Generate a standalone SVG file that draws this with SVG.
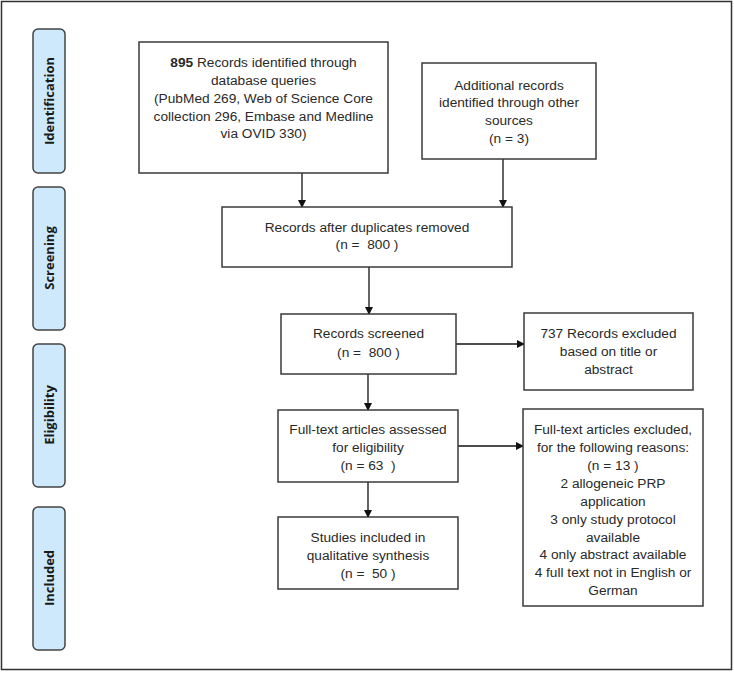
<svg xmlns="http://www.w3.org/2000/svg" width="734" height="680" viewBox="0 0 734 680">
<style>
.frame{fill:#fff;stroke:#333;stroke-width:1.5}
.box{fill:#fff;stroke:#3a3a3a;stroke-width:1.5}
.phase{fill:#cde9fb;stroke:#444;stroke-width:1.5}
.t{font-family:"Liberation Sans",Arial,sans-serif;font-size:13.7px;fill:#2a2a2a;text-anchor:middle;white-space:pre}
.p{font-family:"Open Sans","DejaVu Sans",sans-serif;font-size:13px;font-weight:bold;fill:#1a1a1a;text-anchor:middle}
.c{stroke:#111;stroke-width:1.3;fill:none;marker-end:url(#ah)}
</style>
<defs>
<marker id="ah" markerWidth="8" markerHeight="8" refX="7" refY="4" orient="auto" markerUnits="userSpaceOnUse">
<path d="M0,0 L8,4 L0,8 Z" fill="#111"/>
</marker>
</defs>
<rect class="frame" x="1.5" y="1.5" width="730" height="668"/>
<g id="phase-identification"><rect class="phase" x="33" y="29" width="32" height="144" rx="5"/><text class="p" transform="translate(53.5,101) rotate(-90)">Identification</text></g>
<g id="phase-screening"><rect class="phase" x="33" y="187" width="32" height="143" rx="5"/><text class="p" transform="translate(53.5,258) rotate(-90)">Screening</text></g>
<g id="phase-eligibility"><rect class="phase" x="33" y="344" width="32" height="143" rx="5"/><text class="p" transform="translate(53.5,415) rotate(-90)">Eligibility</text></g>
<g id="phase-included"><rect class="phase" x="33" y="507" width="32" height="143" rx="5"/><text class="p" transform="translate(53.5,578) rotate(-90)">Included</text></g>
<g id="connectors">
<line class="c" x1="302" y1="173" x2="302" y2="207"/>
<line class="c" x1="503" y1="159" x2="503" y2="207"/>
<line class="c" x1="369" y1="267" x2="369" y2="314"/>
<line class="c" x1="456" y1="344" x2="524" y2="344"/>
<line class="c" x1="368" y1="374" x2="368" y2="410"/>
<line class="c" x1="458" y1="446" x2="523" y2="446"/>
<line class="c" x1="368" y1="482" x2="368" y2="517"/>
</g>
<g id="n1"><rect class="box" x="139" y="42" width="249" height="131"/>
<text class="t"><tspan x="263.5" y="67"><tspan font-weight="bold">895</tspan> Records identified through</tspan><tspan x="263.5" y="85">database queries</tspan><tspan x="263.5" y="103">(PubMed 269, Web of Science Core</tspan><tspan x="263.5" y="121">collection 296, Embase and Medline</tspan><tspan x="263.5" y="138">via OVID 330)</tspan></text></g>
<g id="n2"><rect class="box" x="422" y="63" width="174" height="96"/>
<text class="t"><tspan x="509" y="90">Additional records</tspan><tspan x="509" y="107">identified through other</tspan><tspan x="509" y="125">sources</tspan><tspan x="509" y="143">(n = 3)</tspan></text></g>
<g id="n3"><rect class="box" x="222" y="207" width="290" height="60"/>
<text class="t"><tspan x="367" y="232">Records after duplicates removed</tspan><tspan x="367" y="249">(n =  800 )</tspan></text></g>
<g id="n4"><rect class="box" x="281" y="314" width="175" height="60"/>
<text class="t"><tspan x="368.5" y="338">Records screened</tspan><tspan x="368.5" y="357">(n =  800 )</tspan></text></g>
<g id="n5"><rect class="box" x="524" y="313" width="169" height="77"/>
<text class="t"><tspan x="608.5" y="338">737 Records excluded</tspan><tspan x="608.5" y="356">based on title or</tspan><tspan x="608.5" y="374">abstract</tspan></text></g>
<g id="n6"><rect class="box" x="278" y="410" width="180" height="72"/>
<text class="t"><tspan x="368" y="434">Full-text articles assessed</tspan><tspan x="368" y="452">for eligibility</tspan><tspan x="368" y="470">(n = 63  )</tspan></text></g>
<g id="n7"><rect class="box" x="278" y="517" width="180" height="72"/>
<text class="t"><tspan x="368" y="542">Studies included in</tspan><tspan x="368" y="560">qualitative synthesis</tspan><tspan x="368" y="578">(n =  50 )</tspan></text></g>
<g id="n8"><rect class="box" x="523" y="409" width="180" height="197"/>
<text class="t"><tspan x="613" y="434">Full-text articles excluded,</tspan><tspan x="613" y="452">for the following reasons:</tspan><tspan x="613" y="470">(n = 13 )</tspan><tspan x="613" y="488">2 allogeneic PRP</tspan><tspan x="613" y="506">application</tspan><tspan x="613" y="524">3 only study protocol</tspan><tspan x="613" y="542">available</tspan><tspan x="613" y="559">4 only abstract available</tspan><tspan x="613" y="577">4 full text not in English or</tspan><tspan x="613" y="595">German</tspan></text></g>
</svg>
